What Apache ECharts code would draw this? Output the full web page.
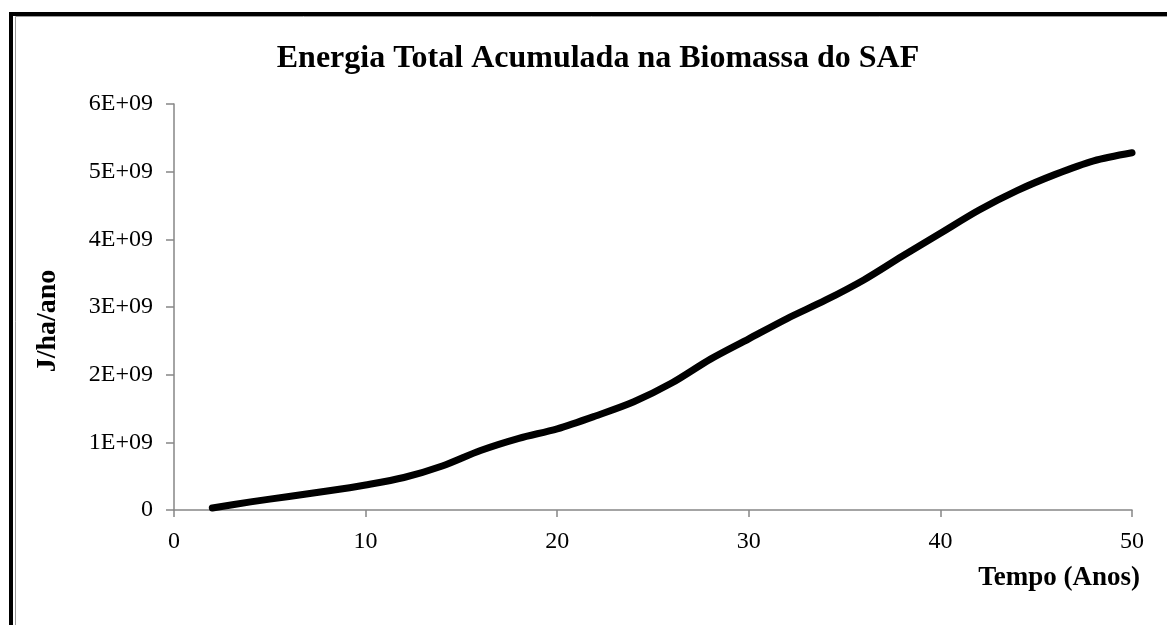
<!DOCTYPE html>
<html>
<head>
<meta charset="utf-8">
<script src="https://cdn.jsdelivr.net/npm/echarts@6/dist/echarts.min.js"></script>
<style>
html,body{margin:0;padding:0;background:#fff;}
#chart{width:1167px;height:625px;}
</style>
</head>
<body>
<div id="chart"></div>
<script>
// Years (x) and accumulated energy (in units of 1E+09 J/ha/ano)
const years = [2, 4, 6, 8, 10, 12, 14, 16, 18, 20, 22, 24, 26, 28, 30, 32, 34, 36, 38, 40, 42, 44, 46, 48, 50];
const energyE9 = [0.03, 0.12, 0.20, 0.28, 0.37, 0.48, 0.65, 0.88, 1.06, 1.20, 1.39, 1.60, 1.88, 2.23, 2.53, 2.83, 3.10, 3.40, 3.75, 4.09, 4.43, 4.72, 4.96, 5.16, 5.28];
const xTicks = [0, 10, 20, 30, 40, 50];
const yTickLabels = ['0', '1E+09', '2E+09', '3E+09', '4E+09', '5E+09', '6E+09'];

const titleText = 'Energia Total Acumulada na Biomassa do SAF';
const xName = 'Tempo (Anos)';
const yName = 'J/ha/ano';

const serif = '"Liberation Serif", "Times New Roman", serif';
const axisGray = '#868686';

const chart = echarts.init(document.getElementById('chart'), null, {renderer: 'canvas'});
chart.setOption({
  backgroundColor: '#ffffff',
  animation: false,
  title: {
    text: titleText,
    left: 593,
    textAlign: 'center',
    top: 38,
    textStyle: {fontFamily: serif, fontWeight: 'bold', fontSize: 32, color: '#000'}
  },
  graphic: [
    {type: 'rect', shape: {x: 11, y: 14, width: 1300, height: 800}, style: {fill: 'none', stroke: '#000', lineWidth: 4}, silent: true},
    {type: 'rect', shape: {x: 15.5, y: 16.5, width: 1300, height: 800}, style: {fill: 'none', stroke: '#9a9a9a', lineWidth: 1}, silent: true}
  ],
  grid: {left: 174, right: 35, top: 104, bottom: 115, containLabel: false},
  xAxis: {
    type: 'value',
    min: xTicks[0],
    max: xTicks[xTicks.length - 1],
    interval: xTicks[1] - xTicks[0],
    name: xName,
    nameLocation: 'end',
    nameGap: 8,
    nameTextStyle: {fontFamily: serif, fontWeight: 'bold', fontSize: 27, color: '#000', align: 'right', verticalAlign: 'top', padding: [55, 0, 0, 0]},
    axisLine: {show: true, lineStyle: {color: axisGray, width: 1.5}},
    axisTick: {show: true, inside: false, length: 7, lineStyle: {color: axisGray, width: 1.5}},
    axisLabel: {margin: 20, fontFamily: serif, fontSize: 24, color: '#000'},
    splitLine: {show: false}
  },
  yAxis: {
    type: 'value',
    min: 0,
    max: 6e9,
    interval: 1e9,
    name: yName,
    nameLocation: 'middle',
    nameGap: 112,
    nameRotate: 90,
    nameTextStyle: {fontFamily: serif, fontWeight: 'bold', fontSize: 28, color: '#000', padding: [0, 28, 0, 0]},
    axisLine: {show: true, lineStyle: {color: axisGray, width: 1.5}},
    axisTick: {show: true, inside: false, length: 8, lineStyle: {color: axisGray, width: 1.5}},
    axisLabel: {
      margin: 21, fontFamily: serif, fontSize: 24, color: '#000',
      formatter: function (v) { return yTickLabels[Math.round(v / 1e9)]; }
    },
    splitLine: {show: false}
  },
  series: [{
    type: 'line',
    data: years.map((y, i) => [y, energyE9[i] * 1e9]),
    showSymbol: false,
    smooth: 0.3,
    lineStyle: {color: '#000', width: 7, cap: 'round', join: 'round'},
    itemStyle: {color: '#000'}
  }]
});
</script>
</body>
</html>
